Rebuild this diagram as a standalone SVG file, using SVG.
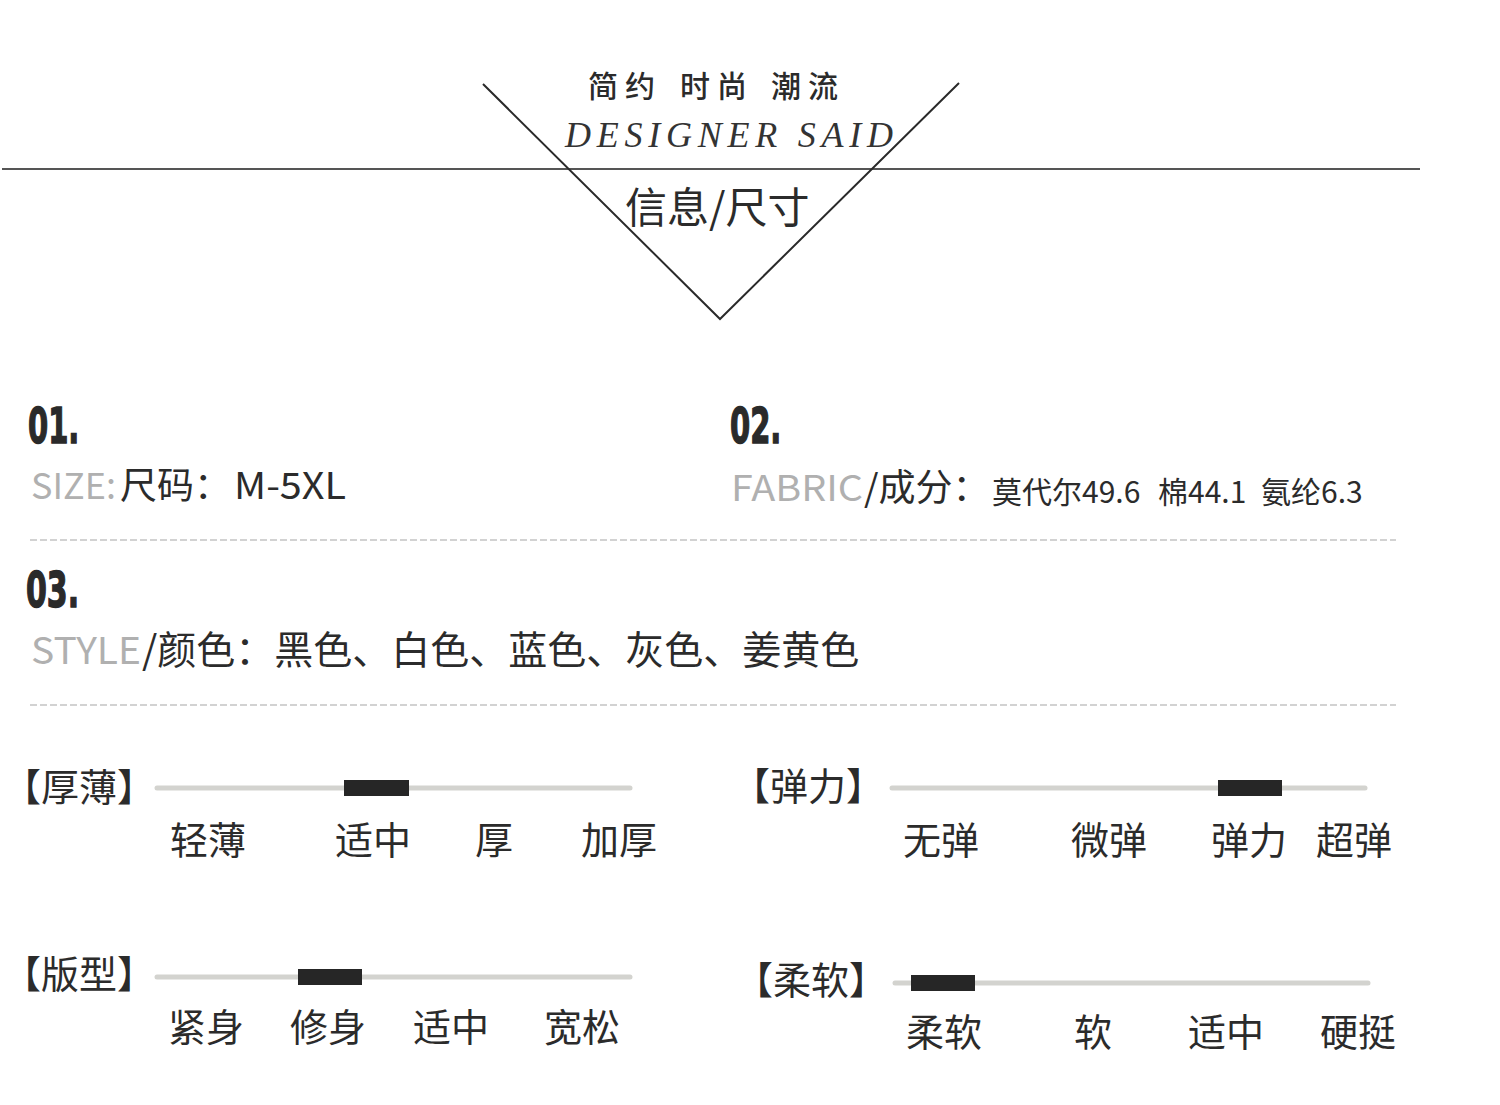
<svg xmlns="http://www.w3.org/2000/svg" width="1500" height="1105" viewBox="0 0 1500 1105">
<style>
.cjk{font-family:"Noto Sans CJK SC","Noto Sans",sans-serif;fill:#2b2b2b}
.gray{fill:#b0b0b0}
.num{font-family:"DejaVu Sans",sans-serif;font-weight:bold;font-size:50px;fill:#2a2a2a;stroke:#2a2a2a;stroke-width:1.5}
.track{stroke:#d3d3cf;stroke-width:5;stroke-linecap:round}
.knob{fill:#262626}
.dash{stroke:#c4c4c4;stroke-width:1.5;stroke-dasharray:7 3}
.lbl{font-size:38px}
</style>
<rect width="1500" height="1105" fill="#ffffff"/>

<g id="header">
  <line x1="2" y1="169" x2="1420" y2="169" stroke="#555" stroke-width="2"/>
  <polyline points="483,84 720,319 959,83" fill="none" stroke="#2a2a2a" stroke-width="2"/>
  <text class="cjk" font-size="30" font-weight="500" letter-spacing="7" y="97"><tspan x="588">简约</tspan><tspan x="680">时尚</tspan><tspan x="771">潮流</tspan></text>
  <text x="565" y="147" font-family="Liberation Serif, serif" font-style="italic" font-size="36" fill="#333" textLength="328" lengthAdjust="spacing">DESIGNER SAID</text>
  <text class="cjk" x="625" y="223" font-size="42" fill="#1e1e1e">信息/尺寸</text>
</g>

<g id="item01">
  <text class="num" transform="translate(28,443) scale(0.58,1)">01.</text>
  <text class="cjk gray" x="31" y="499" font-size="36">SIZE:</text>
  <text class="cjk" x="120" y="499" font-size="37">尺码：</text>
  <text class="cjk" x="234" y="499" font-size="37" textLength="112" lengthAdjust="spacingAndGlyphs">M-5XL</text>
</g>

<g id="item02">
  <text class="num" transform="translate(730,443) scale(0.58,1)">02.</text>
  <text class="cjk gray" x="731" y="501" font-size="36" textLength="132" lengthAdjust="spacingAndGlyphs">FABRIC</text>
  <text class="cjk" x="864" y="501" font-size="37">/成分：</text>
  <text class="cjk" x="992" y="503" font-size="30">莫代尔49.6</text>
  <text class="cjk" x="1158" y="503" font-size="30">棉44.1</text>
  <text class="cjk" x="1261" y="503" font-size="30">氨纶6.3</text>
</g>

<g id="divider1"><line class="dash" x1="30" y1="540" x2="1396" y2="540"/></g>

<g id="item03">
  <text class="num" transform="translate(26,607) scale(0.6,1)">03.</text>
  <text class="cjk gray" x="31" y="664" font-size="37" textLength="110" lengthAdjust="spacingAndGlyphs">STYLE</text>
  <text class="cjk" x="142" y="664" font-size="39">/颜色：黑色、白色、蓝色、灰色、姜黄色</text>
</g>

<g id="divider2"><line class="dash" x1="30" y1="705" x2="1396" y2="705"/></g>

<g id="thickness">
  <text class="cjk lbl" x="3" y="801">【厚薄】</text>
  <line class="track" x1="157" y1="788" x2="630" y2="788"/>
  <rect class="knob" x="344" y="780" width="65" height="16"/>
  <text class="cjk lbl" x="170" y="854">轻薄</text>
  <text class="cjk lbl" x="335" y="854">适中</text>
  <text class="cjk lbl" x="475" y="854">厚</text>
  <text class="cjk lbl" x="581" y="854">加厚</text>
</g>

<g id="elasticity">
  <text class="cjk lbl" x="732" y="800">【弹力】</text>
  <line class="track" x1="892" y1="788" x2="1365" y2="788"/>
  <rect class="knob" x="1218" y="780" width="64" height="16"/>
  <text class="cjk lbl" x="903" y="854">无弹</text>
  <text class="cjk lbl" x="1071" y="854">微弹</text>
  <text class="cjk lbl" x="1211" y="854">弹力</text>
  <text class="cjk lbl" x="1316" y="854">超弹</text>
</g>

<g id="fit">
  <text class="cjk lbl" x="3" y="988">【版型】</text>
  <line class="track" x1="157" y1="977" x2="630" y2="977"/>
  <rect class="knob" x="298" y="969" width="64" height="16"/>
  <text class="cjk lbl" x="168" y="1041">紧身</text>
  <text class="cjk lbl" x="290" y="1041">修身</text>
  <text class="cjk lbl" x="413" y="1041">适中</text>
  <text class="cjk lbl" x="544" y="1041">宽松</text>
</g>

<g id="softness">
  <text class="cjk lbl" x="735" y="994">【柔软】</text>
  <line class="track" x1="895" y1="983" x2="1368" y2="983"/>
  <rect class="knob" x="911" y="975" width="64" height="16"/>
  <text class="cjk lbl" x="906" y="1046">柔软</text>
  <text class="cjk lbl" x="1074" y="1046">软</text>
  <text class="cjk lbl" x="1188" y="1046">适中</text>
  <text class="cjk lbl" x="1320" y="1046">硬挺</text>
</g>
</svg>
